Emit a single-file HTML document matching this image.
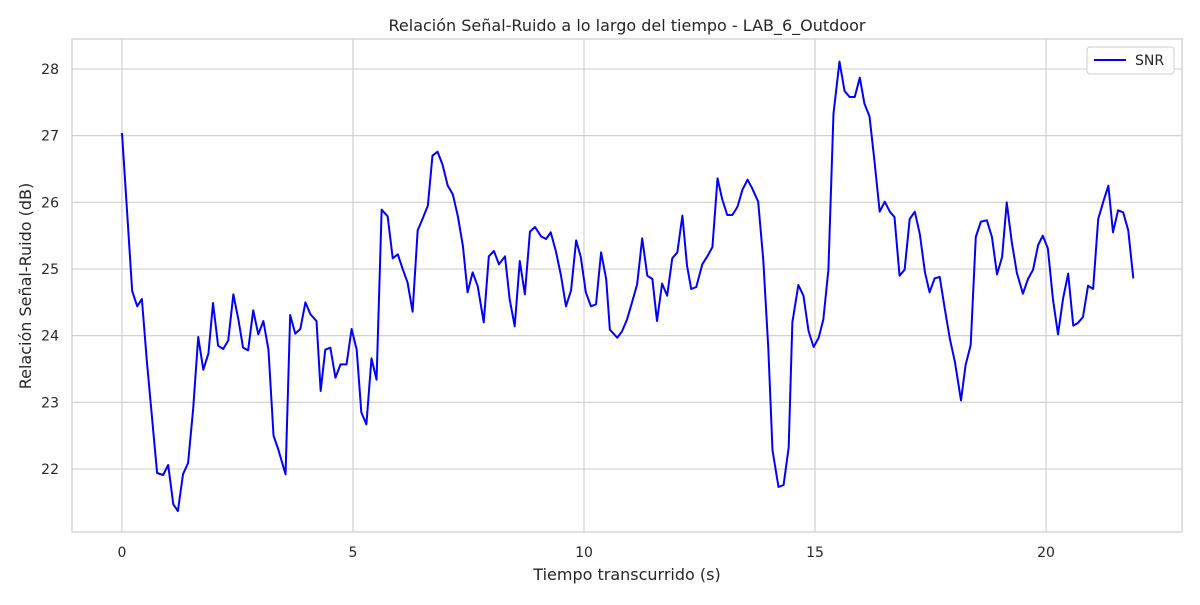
<!DOCTYPE html>
<html><head><meta charset="utf-8"><style>
body{margin:0;background:#fff;font-family:"Liberation Sans","DejaVu Sans",sans-serif}
svg text{font-family:"DejaVu Sans","Liberation Sans",sans-serif;fill:#262626}
</style></head><body>
<svg id="c" width="1200" height="600"></svg>
<script>
const times=[0,.11,.22,.33,.43,.54,.76,.89,1.0,1.11,1.21,1.32,1.43,1.54,1.65,1.76,1.87,1.97,2.08,2.19,2.3,2.41,2.52,2.62,2.73,2.84,2.95,3.06,3.17,3.28,3.38,3.54,3.64,3.75,3.86,3.97,4.08,4.21,4.3,4.4,4.51,4.62,4.73,4.86,4.97,5.08,5.18,5.29,5.4,5.51,5.62,5.75,5.86,5.97,6.07,6.18,6.29,6.4,6.51,6.62,6.72,6.83,6.94,7.05,7.16,7.27,7.38,7.48,7.59,7.7,7.83,7.94,8.05,8.16,8.29,8.39,8.5,8.61,8.72,8.83,8.94,9.07,9.18,9.28,9.39,9.5,9.61,9.72,9.83,9.93,10.04,10.15,10.26,10.37,10.48,10.56,10.72,10.82,10.93,11.04,11.15,11.26,11.37,11.48,11.58,11.69,11.8,11.91,12.02,12.13,12.23,12.32,12.43,12.56,12.67,12.78,12.89,12.99,13.1,13.21,13.32,13.43,13.54,13.64,13.77,13.88,13.99,14.08,14.21,14.32,14.43,14.51,14.64,14.75,14.86,14.97,15.08,15.18,15.29,15.4,15.53,15.64,15.75,15.86,15.97,16.07,16.18,16.29,16.4,16.51,16.62,16.72,16.83,16.94,17.05,17.16,17.27,17.38,17.48,17.59,17.7,17.81,17.92,18.03,18.16,18.26,18.37,18.48,18.59,18.72,18.83,18.94,19.05,19.15,19.26,19.37,19.5,19.61,19.72,19.83,19.93,20.04,20.15,20.26,20.37,20.48,20.59,20.69,20.8,20.91,21.02,21.13,21.24,21.35,21.45,21.56,21.67,21.78,21.89];
const snr=[27.04,25.86,24.67,24.44,24.55,23.6,21.94,21.91,22.06,21.47,21.37,21.92,22.09,22.9,23.98,23.49,23.73,24.49,23.85,23.8,23.93,24.62,24.24,23.82,23.78,24.38,24.02,24.22,23.79,22.5,22.3,21.92,24.31,24.03,24.1,24.5,24.32,24.22,23.17,23.79,23.82,23.37,23.57,23.57,24.1,23.79,22.85,22.67,23.66,23.34,25.89,25.79,25.16,25.22,25.01,24.8,24.36,25.58,25.76,25.95,26.7,26.76,26.56,26.25,26.12,25.79,25.34,24.65,24.95,24.74,24.2,25.19,25.27,25.07,25.19,24.55,24.14,25.12,24.62,25.56,25.63,25.49,25.45,25.55,25.27,24.91,24.44,24.68,25.43,25.18,24.65,24.44,24.47,25.25,24.85,24.09,23.97,24.06,24.24,24.5,24.77,25.46,24.9,24.85,24.22,24.78,24.6,25.16,25.25,25.8,25.05,24.7,24.73,25.07,25.19,25.33,26.36,26.05,25.81,25.81,25.93,26.19,26.34,26.21,26.01,25.14,23.8,22.28,21.73,21.76,22.32,24.2,24.76,24.6,24.07,23.83,23.97,24.24,24.99,27.33,28.11,27.67,27.58,27.58,27.87,27.48,27.29,26.6,25.86,26.01,25.86,25.78,24.9,24.99,25.75,25.86,25.52,24.95,24.65,24.86,24.88,24.4,23.95,23.6,23.03,23.56,23.86,25.48,25.71,25.73,25.48,24.92,25.18,26.0,25.4,24.94,24.63,24.85,24.99,25.36,25.5,25.31,24.55,24.02,24.56,24.93,24.15,24.19,24.28,24.75,24.7,25.75,26.01,26.25,25.55,25.88,25.85,25.58,24.86];
const xTicks=[0,5,10,15,20];
const yTicks=[22,23,24,25,26,27,28];
const L=72,R=1182,T=39,B=532;
const X=t=>122+(t-0)*46.2;
const Y=v=>469-(v-22)*(400/6);
const NS='http://www.w3.org/2000/svg';
const svg=document.getElementById('c');
function mk(tag,attrs,parent){const e=document.createElementNS(NS,tag);for(const k in attrs)e.setAttribute(k,attrs[k]);(parent||svg).appendChild(e);return e;}
const gGrid=mk('g',{});


xTicks.forEach(t=>{
  const l=mk('line',{x1:X(t),x2:X(t),y1:T,y2:B,stroke:'#cccccc','stroke-width':1.1},gGrid);
  
  
  const tx=mk('text',{x:X(t),y:557,'font-size':14,'text-anchor':'middle'});
  tx.textContent=t;
  
  
});
yTicks.forEach(v=>{
  const l=mk('line',{x1:L,x2:R,y1:Y(v),y2:Y(v),stroke:'#cccccc','stroke-width':1.1},gGrid);
  
  
  const tx=mk('text',{x:59,y:Y(v)+5,'font-size':14,'text-anchor':'end'});
  tx.textContent=v;
  
  
});
const frame=mk('rect',{x:L,y:T,width:R-L,height:B-T,fill:'none',stroke:'#cccccc','stroke-width':1.2});


const line=mk('polyline',{points:times.map((t,i)=>X(t)+','+Y(snr[i])).join(' '),fill:'none',stroke:'#0000ff','stroke-width':2,'stroke-linejoin':'round'});


const title=mk('text',{x:627,y:31,'font-size':16,'text-anchor':'middle'});
title.textContent='Relación Señal-Ruido a lo largo del tiempo - LAB_6_Outdoor';


const xl=mk('text',{x:627,y:580,'font-size':16,'text-anchor':'middle'});
xl.textContent='Tiempo transcurrido (s)';


const yl=mk('text',{x:31,y:286,'font-size':16,'text-anchor':'middle',transform:'rotate(-90 31 286)'});
yl.textContent='Relación Señal-Ruido (dB)';


const lg=mk('g',{});


mk('rect',{x:1087,y:47,width:87,height:27,rx:3,fill:'#fff',stroke:'#cccccc'},lg);
mk('line',{x1:1094,x2:1126,y1:60,y2:60,stroke:'#0000ff','stroke-width':2},lg);
const lt=mk('text',{x:1135,y:65,'font-size':14},lg);
lt.textContent='SNR';


</script>
</body></html>
